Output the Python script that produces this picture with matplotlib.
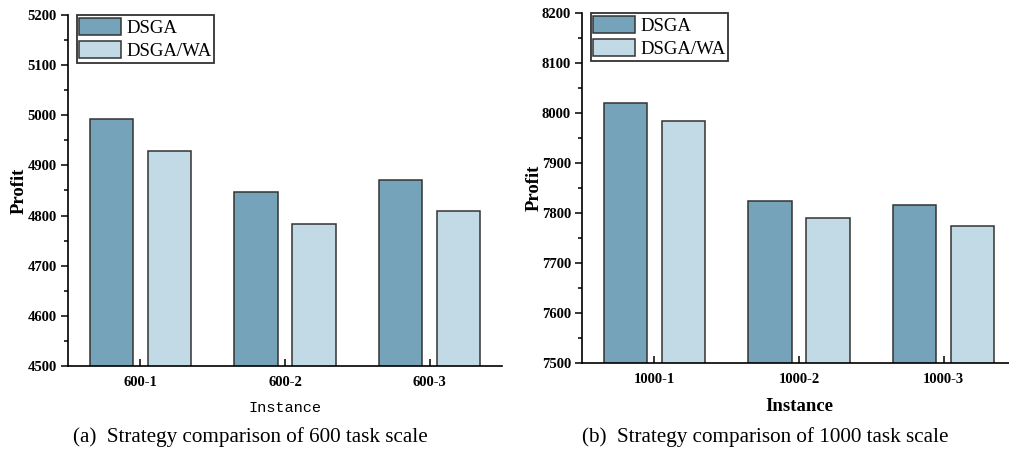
import numpy as np
import matplotlib
matplotlib.use("Agg")
import matplotlib.pyplot as plt
from matplotlib.ticker import MultipleLocator

plt.rcParams["font.family"] = ["Liberation Serif", "DejaVu Serif"]

# ── data ──────────────────────────────────────────────────────────────────────
SERIES = ["DSGA", "DSGA/WA"]
INST_600 = ["600-1", "600-2", "600-3"]
DSGA_600 = [4993, 4846, 4871]
WA_600 = [4929, 4783, 4809]

INST_1000 = ["1000-1", "1000-2", "1000-3"]
DSGA_1000 = [8020, 7823, 7815]
WA_1000 = [7984, 7789, 7773]

COLORS = ["#75a3ba", "#c1dae5"]
EDGE = "#333333"


def draw(ax, labels, a, b, ylim, xlabel_font, ylabelpad, xlabelpad):
    x = np.arange(len(labels))
    w, off = 0.30, 0.20
    ax.bar(x - off, a, w, color=COLORS[0], edgecolor=EDGE, lw=1.1, label=SERIES[0])
    ax.bar(x + off, b, w, color=COLORS[1], edgecolor=EDGE, lw=1.1, label=SERIES[1])
    ax.set_xlim(-0.5, 2.5)
    ax.set_ylim(*ylim)
    ax.set_xticks(x)
    ax.set_xticklabels(labels, fontsize=10.5, fontweight="bold")
    ax.yaxis.set_major_locator(MultipleLocator(100))
    ax.yaxis.set_minor_locator(MultipleLocator(50))
    for t in ax.get_yticklabels():
        t.set_fontweight("bold")
        t.set_fontsize(10.5)
    ax.tick_params(axis="y", which="major", direction="out", length=5, width=1.1, pad=3)
    ax.tick_params(axis="y", which="minor", direction="out", length=3, width=1.1)
    ax.tick_params(axis="x", direction="in", length=5, width=1.1, pad=7)
    for s in ("top", "right"):
        ax.spines[s].set_visible(False)
    for s in ("left", "bottom"):
        ax.spines[s].set_linewidth(1.2)
    ax.set_ylabel("Profit", fontsize=13.5, fontweight="bold", labelpad=ylabelpad)
    ax.set_xlabel("Instance", labelpad=xlabelpad, **xlabel_font)
    leg = ax.legend(loc="upper left", bbox_to_anchor=(0.02, 1.0), fontsize=13.5,
                    frameon=True, fancybox=False, edgecolor="black",
                    handlelength=2.2, handleheight=1.0, borderpad=0.15,
                    labelspacing=0.25, handletextpad=0.3, borderaxespad=0.0)
    leg.get_frame().set_linewidth(1.3)


fig = plt.figure(figsize=(10.09, 4.53), dpi=100)

ax1 = fig.add_axes([0.0674, 0.192, 0.430, 0.775])
draw(ax1, INST_600, DSGA_600, WA_600, (4500, 5200),
     dict(fontsize=11, family=["Liberation Mono", "DejaVu Sans Mono"]),
     ylabelpad=0, xlabelpad=9)

ax2 = fig.add_axes([0.5768, 0.1987, 0.430, 0.7726])
draw(ax2, INST_1000, DSGA_1000, WA_1000, (7500, 8200),
     dict(fontsize=13.5, fontweight="bold"),
     ylabelpad=-1, xlabelpad=9)

fig.text(0.0724, 0.035, "(a)  Strategy comparison of 600 task scale",
         fontsize=15.2, ha="left", va="center")
fig.text(0.5768, 0.035, "(b)  Strategy comparison of 1000 task scale",
         fontsize=15.2, ha="left", va="center")

fig.savefig("out.png", dpi=100)
